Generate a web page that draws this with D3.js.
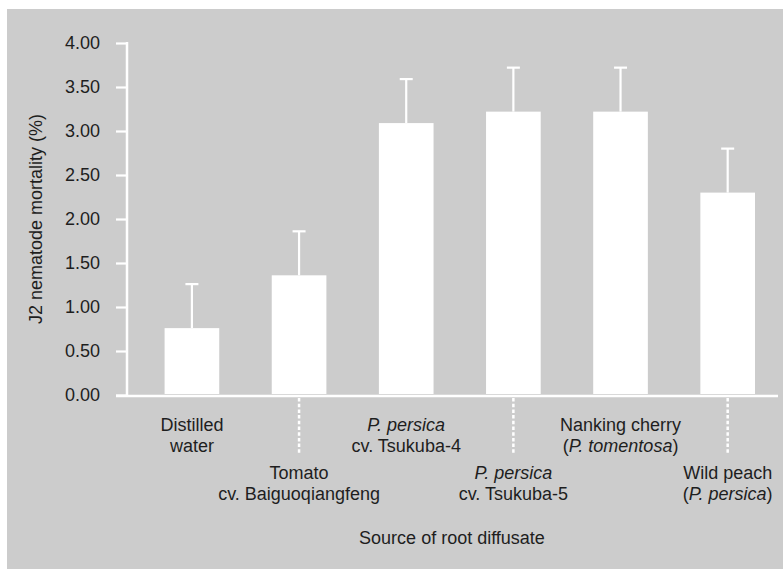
<!DOCTYPE html>
<html>
<head>
<meta charset="utf-8">
<script src="https://cdn.jsdelivr.net/npm/d3@7"></script>
<style>
  body { margin: 0; background: #fff; }
  text { font-family: "Liberation Sans", Arial, sans-serif; fill: #1e1e1e; }
</style>
</head>
<body>
<div id="chart"></div>
<script>

var categories = ["Distilled water", "Tomato cv. Baiguoqiangfeng", "P. persica cv. Tsukuba-4",
                  "P. persica cv. Tsukuba-5", "Nanking cherry (P. tomentosa)", "Wild peach (P. persica)"];
var mortality = [0.76, 1.36, 3.09, 3.22, 3.22, 2.30];
var errors = [0.50, 0.50, 0.50, 0.50, 0.50, 0.50];
var yTicks = [0, 0.5, 1, 1.5, 2, 2.5, 3, 3.5, 4];
// label lines, each line is a list of [text, italic]
var labelLines = [
  [[["Distilled", false]], [["water", false]]],
  [[["Tomato", false]], [["cv. Baiguoqiangfeng", false]]],
  [[["P. persica", true]], [["cv. Tsukuba-4", false]]],
  [[["P. persica", true]], [["cv. Tsukuba-5", false]]],
  [[["Nanking cherry", false]], [["(", false], ["P. tomentosa", true], [")", false]]],
  [[["Wild peach", false]], [["(", false], ["P. persica", true], [")", false]]]
];

var width = 783, height = 569;
var fs = "18px";

var svg = d3.select("#chart").append("svg")
    .attr("width", width)
    .attr("height", height);

// grey panel
svg.append("rect")
    .attr("x", 7)
    .attr("y", 9)
    .attr("width", width - 7)
    .attr("height", height - 9)
    .attr("fill", "#cccccc");

var y = d3.scaleLinear().domain([0, 4]).range([395, 43]);
var x = d3.scaleBand().domain(categories).range([137.8, 781.8]).paddingInner(0.49).paddingOuter(0.25);

// bars
svg.selectAll(".bar")
    .data(categories)
    .enter().append("rect")
    .attr("class", "bar")
    .attr("x", function(d) { return x(d); })
    .attr("y", function(d, i) { return y(mortality[i]); })
    .attr("width", x.bandwidth())
    .attr("height", function(d, i) { return y(0) - 1 - y(mortality[i]); })
    .attr("fill", "#fff");

// error bars (upper only)
var eb = svg.selectAll(".err")
    .data(categories)
    .enter().append("g")
    .attr("class", "err");
eb.append("line")
    .attr("x1", function(d) { return x(d) + x.bandwidth() / 2; })
    .attr("x2", function(d) { return x(d) + x.bandwidth() / 2; })
    .attr("y1", function(d, i) { return y(mortality[i]); })
    .attr("y2", function(d, i) { return y(mortality[i] + errors[i]); })
    .attr("stroke", "#fff")
    .attr("stroke-width", 2.2);
eb.append("line")
    .attr("x1", function(d) { return x(d) + x.bandwidth() / 2 - 6.5; })
    .attr("x2", function(d) { return x(d) + x.bandwidth() / 2 + 6.5; })
    .attr("y1", function(d, i) { return y(mortality[i] + errors[i]); })
    .attr("y2", function(d, i) { return y(mortality[i] + errors[i]); })
    .attr("stroke", "#fff")
    .attr("stroke-width", 2.2);

// y axis
var yAxis = svg.append("g")
    .attr("transform", "translate(127,0)")
    .call(d3.axisLeft(y).tickValues(yTicks).tickFormat(d3.format(".2f")).tickSize(11).tickPadding(16));
yAxis.select(".domain").remove();
yAxis.selectAll(".tick line").attr("stroke", "#fff").attr("stroke-width", 2.2);
yAxis.selectAll(".tick text")
    .style("font-size", fs)
    .style("font-family", "Liberation Sans, Arial, sans-serif")
    .attr("fill", "#1e1e1e");
svg.append("line")
    .attr("x1", 127).attr("x2", 127)
    .attr("y1", y(4) - 1).attr("y2", y(0) + 2)
    .attr("stroke", "#fff").attr("stroke-width", 2.5);

// x axis line
svg.append("line")
    .attr("x1", 116).attr("x2", 778)
    .attr("y1", y(0) + 1).attr("y2", y(0) + 1)
    .attr("stroke", "#fff").attr("stroke-width", 2.5);

// dotted leaders for the lower row labels
svg.selectAll(".leader")
    .data(categories.filter(function(d, i) { return i % 2 == 1; }))
    .enter().append("line")
    .attr("class", "leader")
    .attr("x1", function(d) { return x(d) + x.bandwidth() / 2; })
    .attr("x2", function(d) { return x(d) + x.bandwidth() / 2; })
    .attr("y1", y(0) + 3)
    .attr("y2", 453)
    .attr("stroke", "#fff")
    .attr("stroke-width", 2.5)
    .attr("stroke-dasharray", "3.5,2.2");

// category labels, staggered in two rows
for (i = 0; i < categories.length; i++) {
  var base = (i % 2 == 0) ? 431 : 479;
  for (j = 0; j < labelLines[i].length; j++) {
    var t = svg.append("text")
        .attr("x", x(categories[i]) + x.bandwidth() / 2)
        .attr("y", base + j * 21)
        .attr("text-anchor", "middle")
        .style("font-size", fs);
    labelLines[i][j].forEach(function(seg) {
      t.append("tspan")
          .text(seg[0])
          .style("font-style", seg[1] ? "italic" : "normal");
    });
  }
}

// axis titles
svg.append("text")
    .attr("x", 452)
    .attr("y", 544)
    .attr("text-anchor", "middle")
    .style("font-size", fs)
    .text("Source of root diffusate");

svg.append("text")
    .attr("transform", "translate(42,219) rotate(-90)")
    .attr("text-anchor", "middle")
    .style("font-size", fs)
    .text("J2 nematode mortality (%)");

</script>
</body>
</html>
